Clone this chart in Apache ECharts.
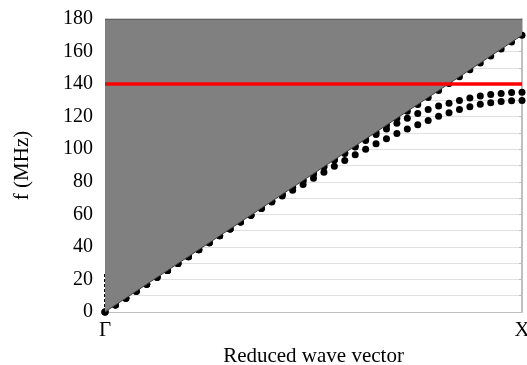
<!DOCTYPE html>
<html>
<head>
<meta charset="utf-8">
<script src="https://cdn.jsdelivr.net/npm/echarts@6/dist/echarts.min.js"></script>
<style>html,body{margin:0;padding:0;background:#fff;}#c{width:527px;height:365px;}</style>
</head>
<body>
<div id="c"></div>
<script>
// 41 k-points from Γ (index 0) to X (index 40)
var kLabels = ['Γ','','','','','','','','','','','','','','','','','','','','','','','','','','','','','','','','','','','','','','','','X'];
// light (sound) line
var lightLine = [0,4.3,8.5,12.8,17,21.3,25.5,29.8,34,38.3,42.5,46.8,51,55.3,59.5,63.8,68,72.3,76.5,80.8,85,89.3,93.5,97.8,102,106.3,110.5,114.8,119,123.3,127.5,131.8,136,140.3,144.5,148.8,153,157.3,161.5,165.8,170];
// upper band
var bandA = [0,4.3,8.5,12.8,17,21.3,25.5,29.8,34,38.3,42.5,46.8,51,55.3,59.5,63.8,68,72.3,76.5,80.8,85,89.3,93.4,97.4,101.4,105.4,109,112.5,115.9,119,122,124.4,126.5,128.3,130,131.5,132.7,133.6,134.3,134.8,135];
// lower band
var bandB = [0,4.3,8.5,12.8,17,21.3,25.5,29.8,34,38.3,42.5,46.8,51,55.3,59.5,63.6,67.6,71.3,74.8,78.3,82.2,85.9,89.5,93.1,96.6,100,103.3,106.5,109.6,112.4,115.1,117.6,120.2,122.4,124.4,126.1,127.6,128.6,129.3,129.8,130];
// modes at Γ
var gammaModes = [0, 24];
var redLevel = 140;
var topLevel = 180;

var serif = "'Liberation Serif','Times New Roman',serif";
var dot = {type: 'scatter', z: 1, symbol: 'circle', symbolSize: 7, itemStyle: {color: '#000', opacity: 1}};
var chart = echarts.init(document.getElementById('c'));
chart.setOption({
  animation: false,
  grid: {left: 105, right: 5, top: 19, bottom: 53, containLabel: false, outerBoundsMode: 'none'},
  xAxis: {
    type: 'category', data: kLabels, boundaryGap: false,
    name: 'Reduced wave vector', nameLocation: 'middle', nameGap: 32,
    nameTextStyle: {fontFamily: serif, fontSize: 21, color: '#000'},
    axisLine: {lineStyle: {color: '#bfbfbf', width: 1}},
    axisTick: {show: false},
    axisLabel: {interval: 0, fontFamily: serif, fontSize: 21, color: '#000', margin: 8},
    splitLine: {show: false}
  },
  yAxis: [{
    type: 'value', min: 0, max: 180, interval: 10,
    name: 'f (MHz)', nameLocation: 'middle', nameGap: 72,
    nameTextStyle: {fontFamily: serif, fontSize: 21, color: '#000'},
    axisLine: {show: true, lineStyle: {color: '#bfbfbf'}},
    axisTick: {show: false},
    axisLabel: {fontFamily: serif, fontSize: 20, color: '#000', margin: 12,
      formatter: function (v) { return v % 20 === 0 ? String(v) : ''; }},
    splitLine: {show: true, lineStyle: {color: '#e0e0e0', width: 1}}
  }, {
    type: 'value', min: 0, max: 180, interval: 10, position: 'right',
    axisLine: {show: true, lineStyle: {color: '#c0c0c0', width: 2}},
    axisTick: {show: true, inside: true, length: 3, lineStyle: {color: '#c0c0c0'}},
    axisLabel: {show: false}, splitLine: {show: false}
  }],
  series: [
    Object.assign({}, dot, {data: lightLine}),
    Object.assign({}, dot, {data: bandA}),
    Object.assign({}, dot, {data: bandB}),
    {type: 'line', z: 1, symbol: 'none', lineStyle: {color: '#000', width: 2, type: [3, 2]},
      data: [[0, gammaModes[0]], [0, gammaModes[1]]]},
    {type: 'line', z: 3, symbol: 'none', data: lightLine,
      lineStyle: {color: '#404040', width: 1},
      areaStyle: {color: '#808080', origin: 'end', opacity: 1}},
    {type: 'line', z: 4, symbol: 'none', lineStyle: {color: '#404040', width: 1},
      data: [[0, topLevel], [40, topLevel]]},
    {type: 'line', z: 5, symbol: 'none', lineStyle: {color: '#ff0000', width: 3.5},
      data: [[0, redLevel], [40, redLevel]]}
  ]
});
</script>
</body>
</html>
